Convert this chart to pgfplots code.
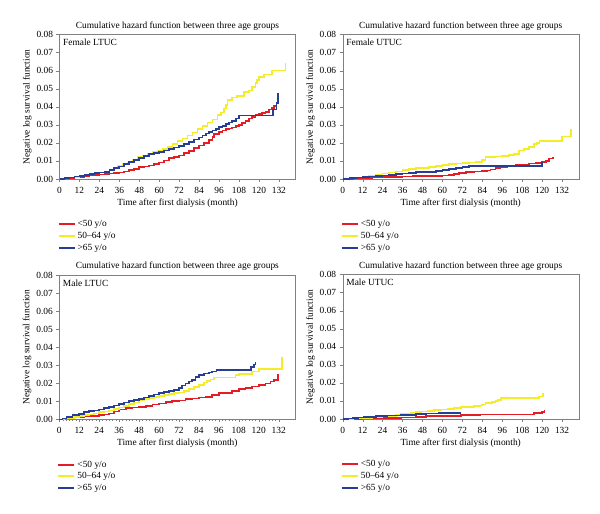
\documentclass[border=0pt]{standalone}
\usepackage{fontspec}
\setmainfont{Liberation Serif}
\usepackage{pgfplots}
\pgfplotsset{compat=1.18}

\definecolor{cred}{RGB}{228,28,36}
\definecolor{cyel}{RGB}{245,236,40}
\definecolor{cblu}{RGB}{38,62,150}

\newcommand\ff{\fontsize{9.4}{11}\selectfont}

\pgfplotsset{
  legend image code/.code={\draw[#1] (0pt,0pt) -- (16pt,0pt);},
}
\pgfplotsset{
  hz/.style={
    scale only axis,
    width=236pt, height=144.5pt,
    anchor=south west,
    font=\ff,
    clip=false,
    xmin=0, xmax=142, ymin=0, ymax=0.08,
    xtick={0,12,...,132},
    ytick={0,0.01,...,0.08},
    minor x tick num=5,
    tick pos=left,
    tick align=outside,
    major tick length=3pt,
    minor tick length=1.5pt,
    axis line style={gray},
    tick style={gray},
    scaled y ticks=false,
    /pgf/number format/assume math mode=true,
    yticklabel style={/pgf/number format/.cd, fixed, fixed zerofill, precision=2},
    xticklabel style={yshift=-1.5pt},
    xlabel={Time after first dialysis (month)},
    xlabel style={at={(axis description cs:0.5,-0.166)}, anchor=center},
    ylabel={Negative log survival function},
    ylabel style={at={(axis description cs:-0.136,0.5)}, anchor=center},
    legend style={at={(axis description cs:-0.0085,-0.2705)}, anchor=north west,
      draw=none, fill=none, inner sep=0pt, font=\ff},
    legend cell align=left,
    legend entries={<50 y/o, 50--64 y/o, >65 y/o},
    every axis plot/.append style={const plot, line width=1.7pt, forget plot},
  },
}
\newcommand\legimgs{%
  \addlegendimage{color=cred, line width=2pt}
  \addlegendimage{color=cyel, line width=2pt}
  \addlegendimage{color=cblu, line width=2pt}}
\newcommand\heads[1]{%
  \node[anchor=base, inner sep=0pt] at (rel axis cs:0.5,1) [yshift=6.3pt]
    {Cumulative hazard function between three age groups};
  \node[anchor=north west, inner xsep=3.5pt, inner ysep=4.5pt] at (rel axis cs:0,1) {#1};}

\begin{document}
\begin{tikzpicture}
\path[use as bounding box] (0,0) rectangle (600pt,514pt);

% Female LTUC
\begin{axis}[hz, at={(59.5pt,335pt)}]
  \legimgs
  \addplot[color=cred] coordinates {
    (0,0) (3,0.0003) (6,0.0005) (9,0.0009) (12,0.0012) (15,0.0016) (18,0.0020) (21,0.0023)
    (24,0.0025) (27,0.0028) (30,0.0030) (33,0.0033) (36,0.0036) (39,0.0042) (42,0.0048)
    (45,0.0057) (48,0.0065) (51,0.0070) (54,0.0075) (57,0.0082) (60,0.0092) (63,0.0103)
    (66,0.0115) (69,0.0122) (72,0.0130) (75,0.0142) (78,0.0155) (81,0.0170) (84,0.0185)
    (87,0.0200) (90,0.0215) (92,0.0232) (93,0.0250) (96,0.0260) (98,0.0268) (100,0.0275)
    (102,0.0280) (104,0.0285) (106,0.0292) (108,0.0300) (110,0.0310) (112,0.0320)
    (114,0.0335) (116,0.0345) (118,0.0355) (120,0.0360) (122,0.0365) (124,0.0370)
    (126,0.0385) (128,0.0395) (129,0.0405) (130.5,0.0405) (130.5,0.0418)
  };
  \addplot[color=cyel] coordinates {
    (0,0) (3,0.0004) (6,0.0008) (9,0.0012) (12,0.0016) (15,0.0020) (18,0.0025) (21,0.0030)
    (24,0.0036) (27,0.0040) (30,0.0047) (33,0.0060) (35,0.0072) (38,0.0082) (41,0.0092)
    (44,0.0105) (47,0.0120) (50,0.0130) (53,0.0140) (56,0.0150) (59,0.0158) (62,0.0168)
    (65,0.0178) (68,0.0192) (71,0.0210) (74,0.0225) (77,0.0240) (80,0.0258) (83,0.0278)
    (86,0.0295) (89,0.0312) (92,0.0330) (95,0.0355) (97,0.0368) (99,0.0390) (100,0.0410)
    (101,0.0437) (104,0.0452) (107,0.0458) (111,0.0480) (114,0.0490) (116,0.0510)
    (118,0.0530) (119,0.0550) (120,0.0565) (123,0.0578) (128,0.0600) (136,0.0600) (136,0.0640)
  };
  \addplot[color=cblu] coordinates {
    (0,0) (3,0.0004) (6,0.0008) (9,0.0013) (12,0.0018) (15,0.0022) (18,0.0027) (21,0.0032)
    (24,0.0036) (27,0.0040) (30,0.0048) (33,0.0060) (36,0.0070) (39,0.0082) (42,0.0095)
    (45,0.0107) (48,0.0118) (51,0.0128) (54,0.0138) (57,0.0143) (60,0.0148) (63,0.0157)
    (66,0.0165) (69,0.0175) (72,0.0183) (75,0.0193) (78,0.0205) (81,0.0218) (84,0.0230)
    (86,0.0240) (88,0.0252) (90,0.0260) (92,0.0268) (94,0.0278) (96,0.0288) (98,0.0295)
    (100,0.0305) (102,0.0312) (104,0.0322) (106,0.0335) (108,0.0352) (128.5,0.0385)
    (130.5,0.0420) (131.5,0.0420) (131.5,0.0475)
  };
  \heads{Female LTUC}
\end{axis}

% Female UTUC
\begin{axis}[hz, at={(342.7pt,335pt)}]
  \legimgs
  \addplot[color=cred] coordinates {
    (0,0) (6,0.0003) (12,0.0006) (18,0.0008) (24,0.0010) (30,0.0012) (36,0.0014) (42,0.0016)
    (48,0.0017) (54,0.0018) (60,0.0019) (64,0.0022) (67,0.0027) (70,0.0032) (74,0.0037)
    (79,0.0041) (84,0.0044) (87,0.0047) (89,0.0053) (92,0.0060) (95,0.0068) (99,0.0074)
    (104,0.0078) (108,0.0081) (112,0.0085) (116,0.0088) (120,0.0095) (122.5,0.0100)
    (124,0.0114) (126.5,0.0114) (126.5,0.0123)
  };
  \addplot[color=cyel] coordinates {
    (0,0) (4,0.0003) (8,0.0008) (12,0.0014) (16,0.0019) (20,0.0025) (24,0.0031) (28,0.0036)
    (32,0.0041) (36,0.0048) (40,0.0054) (44,0.0059) (48,0.0061) (52,0.0065) (56,0.0072)
    (60,0.0079) (64,0.0083) (68,0.0086) (72,0.0090) (76,0.0091) (80,0.0093) (84,0.0105)
    (86,0.0120) (92,0.0124) (96,0.0128) (100,0.0134) (103,0.0140) (106,0.0157) (109,0.0165)
    (112,0.0177) (115,0.0192) (117,0.0200) (118.5,0.0212) (132,0.0236) (137.5,0.0236)
    (137.5,0.0275)
  };
  \addplot[color=cblu] coordinates {
    (0,0) (4,0.0004) (8,0.0008) (12,0.0011) (16,0.0014) (20,0.0017) (24,0.0020) (28,0.0023)
    (32,0.0026) (36,0.0030) (40,0.0035) (44,0.0038) (48,0.0039) (52,0.0040) (56,0.0044)
    (60,0.0050) (64,0.0055) (68,0.0059) (72,0.0065) (76,0.0072) (120,0.0072) (120,0.0096)
  };
  \heads{Female UTUC}
\end{axis}

% Male LTUC
\begin{axis}[hz, at={(59.3pt,94.5pt)}]
  \legimgs
  \addplot[color=cred] coordinates {
    (0,0) (3,0.0005) (6,0.0009) (9,0.0012) (12,0.0015) (15,0.0017) (18,0.0019) (21,0.0021)
    (24,0.0024) (27,0.0028) (30,0.0034) (33,0.0045) (36,0.0055) (40,0.0062) (44,0.0067)
    (48,0.0071) (52,0.0076) (56,0.0083) (60,0.0089) (64,0.0095) (68,0.0102) (72,0.0106)
    (76,0.0112) (80,0.0117) (84,0.0122) (88,0.0126) (92,0.0135) (96,0.0145) (100,0.0148)
    (104,0.0158) (108,0.0167) (112,0.0175) (116,0.0182) (120,0.0190) (124,0.0200)
    (127,0.0210) (129,0.0218) (131.4,0.0225) (131.4,0.0250)
  };
  \addplot[color=cyel] coordinates {
    (0,0) (3,0.0005) (6,0.0009) (9,0.0013) (12,0.0018) (15,0.0023) (18,0.0028) (21,0.0034)
    (24,0.0040) (27,0.0044) (30,0.0050) (33,0.0057) (36,0.0066) (39,0.0075) (42,0.0085)
    (45,0.0094) (48,0.0105) (51,0.0112) (54,0.0120) (57,0.0126) (60,0.0132) (63,0.0137)
    (66,0.0142) (69,0.0146) (72,0.0150) (75,0.0158) (78,0.0168) (81,0.0180) (84,0.0192)
    (87,0.0205) (89,0.0212) (91,0.0222) (93,0.0232) (106,0.0245) (108,0.0252) (116,0.0265)
    (120,0.0280) (134,0.0280) (134,0.0345)
  };
  \addplot[color=cblu] coordinates {
    (0,0) (2,0.0006) (4.4,0.0015) (8,0.0023) (12,0.0030) (15,0.0040) (18,0.0046) (21,0.0050)
    (24,0.0055) (27,0.0062) (30,0.0070) (33,0.0078) (36,0.0087) (39,0.0094) (42,0.0102)
    (45,0.0109) (48,0.0115) (51,0.0122) (54,0.0130) (57,0.0138) (60,0.0145) (63,0.0152)
    (66,0.0158) (69,0.0165) (72,0.0176) (74,0.0188) (76,0.0200) (78,0.0210) (80,0.0218)
    (82,0.0235) (84,0.0245) (87,0.0255) (90,0.0260) (92,0.0265) (94.5,0.0275) (115.5,0.0290)
    (117,0.0305) (118,0.0320)
  };
  \heads{Male LTUC}
\end{axis}

% Male UTUC
\begin{axis}[hz, at={(342.7pt,95pt)}]
  \legimgs
  \addplot[color=cred] coordinates {
    (0,0) (6,0.0001) (12,0.0003) (20,0.0005) (28,0.0007) (35,0.0009) (44,0.0013) (50,0.0016)
    (60,0.0017) (71,0.0022) (83,0.0025) (115,0.0035) (120,0.0040) (121.5,0.0050)
  };
  \addplot[color=cyel] coordinates {
    (0,0) (6,0.0003) (12,0.0007) (18,0.0011) (24,0.0015) (28,0.0018) (32,0.0022) (35,0.0026)
    (38,0.0031) (41,0.0035) (44,0.0038) (47,0.0041) (51,0.0045) (55,0.0048) (59,0.0053)
    (63,0.0057) (67,0.0061) (71,0.0065) (75,0.0068) (79,0.0072) (83,0.0074) (84,0.0080)
    (86,0.0087) (88,0.0090) (90,0.0093) (92,0.0100) (93.5,0.0105) (95.3,0.0115) (118,0.0125)
    (120.5,0.0125) (120.5,0.0146)
  };
  \addplot[color=cblu] coordinates {
    (0,0) (3,0.0003) (6,0.0006) (9,0.0009) (12.5,0.0013) (20,0.0015) (26.6,0.0019) (35,0.0023)
    (44,0.0028) (50,0.0030) (58,0.0035) (71.4,0.0035)
  };
  \heads{Male UTUC}
\end{axis}
\end{tikzpicture}
\end{document}
